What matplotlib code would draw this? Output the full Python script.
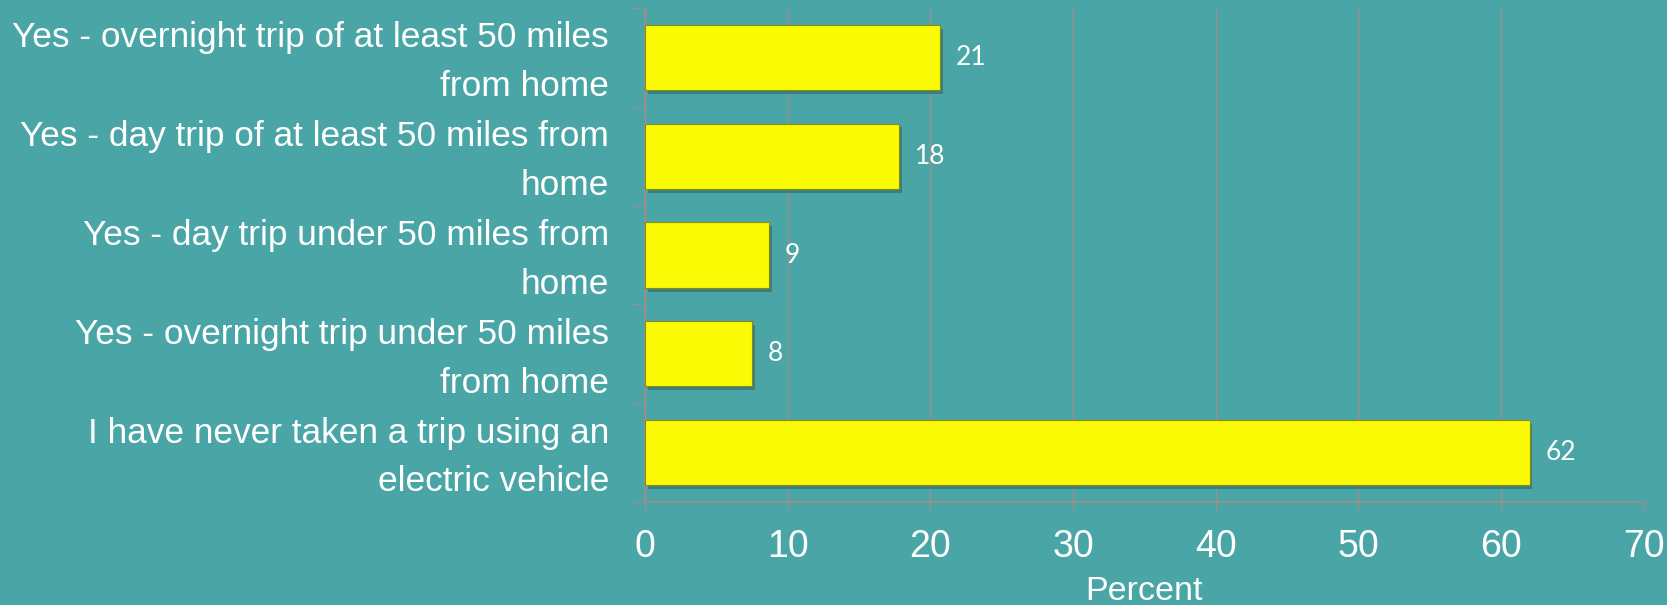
import matplotlib.pyplot as plt

categories = [
    "Yes - overnight trip of at least 50 miles\nfrom home",
    "Yes - day trip of at least 50 miles from\nhome",
    "Yes - day trip under 50 miles from\nhome",
    "Yes - overnight trip under 50 miles\nfrom home",
    "I have never taken a trip using an\nelectric vehicle",
]
values = [20.7, 17.8, 8.7, 7.5, 62.0]
labels = ["21", "18", "9", "8", "62"]
xticks = [0, 10, 20, 30, 40, 50, 60, 70]

bg = "#4aa6a6"
gridc = "#a08c8c"

fig = plt.figure(figsize=(16.67, 6.05), dpi=100, facecolor=bg)
ax = fig.add_axes([0.387, 0.170, 0.599, 0.817], facecolor=bg)

ypos = list(range(len(categories)))
# shadow bars
ax.barh([y + 0.04 for y in ypos], values, height=0.66, left=0.2,
        color="#2e6060", alpha=0.55, zorder=2)
ax.barh(ypos, values, height=0.66, color="#fafa05",
        edgecolor="#8a8a10", linewidth=0.8, zorder=3)

for y, v, t in zip(ypos, values, labels):
    ax.text(v + 1.1, y, t, va="center", ha="left", color="white",
            fontsize=19, family=["Lato", "DejaVu Sans"], zorder=4)

ax.set_xlim(0, 70)
ax.set_ylim(len(categories) - 0.5, -0.5)
ax.set_xticks(xticks)
ax.set_xticklabels([str(x) for x in xticks], color="white", fontsize=27,
                   family=["Liberation Sans", "DejaVu Sans"])
# labels sit a bit above bar centre (major ticks are hidden)
ax.set_yticks([y - 0.065 for y in ypos])
ax.set_yticklabels(categories, color="white", fontsize=25.4, linespacing=1.6,
                   family=["Liberation Sans Narrow", "Liberation Sans"])
ax.set_yticks([y + 0.5 for y in [-1] + ypos], minor=True)
ax.tick_params(axis="y", which="major", length=0, pad=26)
ax.tick_params(axis="y", which="minor", length=10, color=gridc, direction="out")
ax.tick_params(axis="x", length=8, color=gridc, direction="out", pad=11)

ax.grid(axis="x", color=gridc, linewidth=1, zorder=0)
ax.set_axisbelow(True)
for s in ["top", "right"]:
    ax.spines[s].set_visible(False)
for s in ["left", "bottom"]:
    ax.spines[s].set_color(gridc)
    ax.spines[s].set_linewidth(1.2)

ax.set_xlabel("Percent", color="white", fontsize=24.5, labelpad=8,
              family=["Liberation Sans", "DejaVu Sans"])

fig.savefig("out.png", dpi=100, facecolor=bg)
